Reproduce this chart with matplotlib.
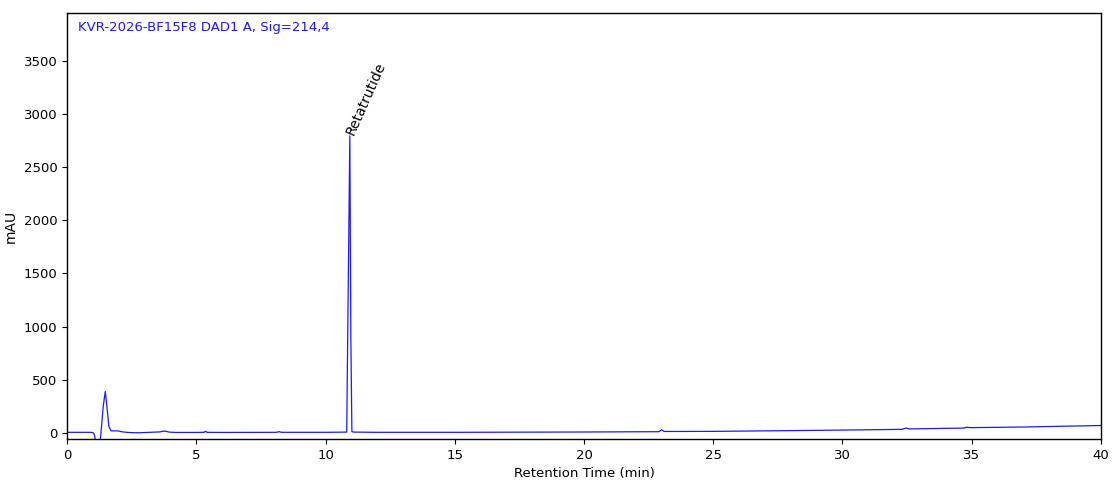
import matplotlib
matplotlib.use("Agg")
import matplotlib.pyplot as plt

# Chromatogram trace (time in min, absorbance in mAU)
time_min = [0.0, 0.9, 1.0, 1.05, 1.12, 1.28, 1.33, 1.40, 1.48, 1.55, 1.62, 1.70,
            2.0, 2.1, 2.3, 2.5, 2.8, 3.2, 3.6, 3.75, 3.82, 3.95, 4.2, 5.0, 5.3,
            5.35, 5.42, 6.0, 8.1, 8.2, 8.3, 10.0, 10.82, 10.88, 10.94, 10.98,
            11.02, 11.1, 12.0, 15.0, 20.0, 22.9, 23.0, 23.1, 25.0, 28.0, 30.0,
            32.3, 32.45, 32.6, 34.7, 34.8, 34.95, 37.0, 40.0]
signal_mau = [6, 6, 4, -10, -90, -90, 50, 250, 390, 230, 60, 20,
              19, 12, 6, 3, 2, 6, 10, 18, 16, 8, 5, 5, 6,
              16, 6, 5, 6, 12, 6, 6, 8, 1400, 2795, 900,
              12, 8, 6, 6, 9, 12, 30, 14, 15, 22, 27,
              34, 46, 38, 46, 54, 50, 56, 70]

peak_name = "Retatrutide"
peak_time = 10.94
peak_height = 2795
title_text = "KVR-2026-BF15F8 DAD1 A, Sig=214,4"
x_ticks = [0, 5, 10, 15, 20, 25, 30, 35, 40]
y_ticks = [0, 500, 1000, 1500, 2000, 2500, 3000, 3500]

fig = plt.figure(figsize=(11.19, 4.99), dpi=100)
ax = fig.add_axes([0.0599, 0.1202, 0.9240, 0.8537])

ax.plot(time_min, signal_mau, color="#1a1aff", lw=0.9)
ax.set_xlim(0, 40)
ax.set_ylim(-57, 3950)
ax.set_xticks(x_ticks)
ax.set_yticks(y_ticks)
ax.tick_params(labelsize=9.5)
ax.set_xlabel("Retention Time (min)", fontsize=9.5)
ax.set_ylabel("mAU", fontsize=10)
for s in ax.spines.values():
    s.set_linewidth(1.0)

ax.text(0.011, 0.967, title_text, transform=ax.transAxes, color="#1a1aff",
        fontsize=9.5, ha="left", va="center")
ax.annotate(peak_name, xy=(peak_time, peak_height), xytext=(2.5, 0),
            textcoords="offset points", rotation=66, rotation_mode="anchor",
            ha="left", va="baseline", fontsize=10)

fig.savefig("out.png", dpi=100)
